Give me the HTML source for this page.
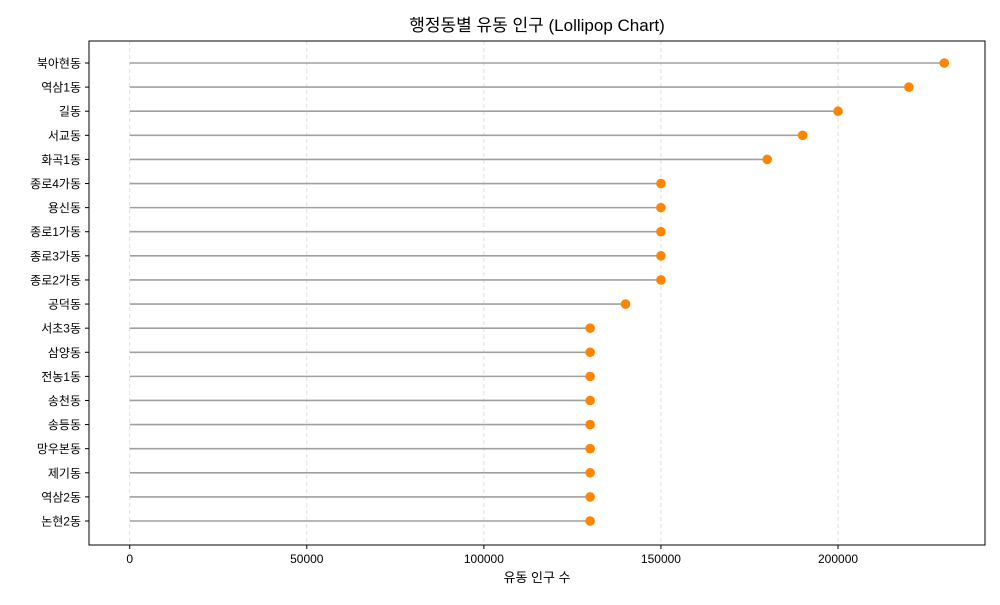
<!DOCTYPE html>
<html><head><meta charset="utf-8"><style>
body{margin:0;background:#fff;}
svg text{font-family:"Liberation Sans","Noto Sans CJK KR",sans-serif;fill:#000;}
</style></head><body>
<svg id="chart" width="1000" height="600">
<text x="537" y="31" font-size="17" text-anchor="middle">행정동별 유동 인구 (Lollipop Chart)</text>
<text x="537" y="582" font-size="13" text-anchor="middle">유동 인구 수</text>
<g id="grid"></g><g id="marks"></g><g id="axes"></g>
<rect x="89" y="41" width="896" height="504" fill="none" stroke="#000" stroke-width="1"/>
</svg>
<script>
const categories=["북아현동","역삼1동","길동","서교동","화곡1동","종로4가동","용신동","종로1가동","종로3가동","종로2가동","공덕동","서초3동","삼양동","전농1동","송천동","송등동","망우본동","제기동","역삼2동","논현2동"];
const values=[230000,220000,200000,190000,180000,150000,150000,150000,150000,150000,140000,130000,130000,130000,130000,130000,130000,130000,130000,130000];
const xTicks=[0,50000,100000,150000,200000];
const NS="http://www.w3.org/2000/svg";
const L=89,R=985,T=41,B=545;
const xmin=-11500,xmax=241500;
const x=v=>L+(v-xmin)/(xmax-xmin)*(R-L);
const n=categories.length;
const step=(B-T-46)/(n-1);
const y=i=>T+22+i*step;
function mk(tag,attrs,parent){const e=document.createElementNS(NS,tag);for(const k in attrs)e.setAttribute(k,attrs[k]);parent.appendChild(e);return e;}
const grid=document.getElementById('grid'),marks=document.getElementById('marks'),axes=document.getElementById('axes');
xTicks.forEach(t=>{
 const g=mk('line',{x1:x(t),x2:x(t),y1:T,y2:B,stroke:'#d8d8d8','stroke-dasharray':'4,3','stroke-width':0.8},grid);
 
 
 const tk=mk('line',{x1:x(t),x2:x(t),y1:B,y2:B+4,stroke:'#000'},axes);
 
 
 const tl=mk('text',{x:x(t),y:B+18,'font-size':12,'text-anchor':'middle'},axes);
 tl.textContent=t;
 
 
});
categories.forEach((c,i)=>{
 const s=mk('line',{x1:x(0),x2:x(values[i]),y1:y(i),y2:y(i),stroke:'#a0a0a0','stroke-width':1.6},marks);
 
 
 const d=mk('circle',{cx:x(values[i]),cy:y(i),r:4.8,fill:'#ff8500'},marks);
 
 
 const tk=mk('line',{x1:L-4,x2:L,y1:y(i),y2:y(i),stroke:'#000'},axes);
 
 
 const tl=mk('text',{x:L-8,y:y(i)+4.5,'font-size':12,'text-anchor':'end'},axes);
 tl.textContent=c;
 
 
});
</script>
</body></html>
